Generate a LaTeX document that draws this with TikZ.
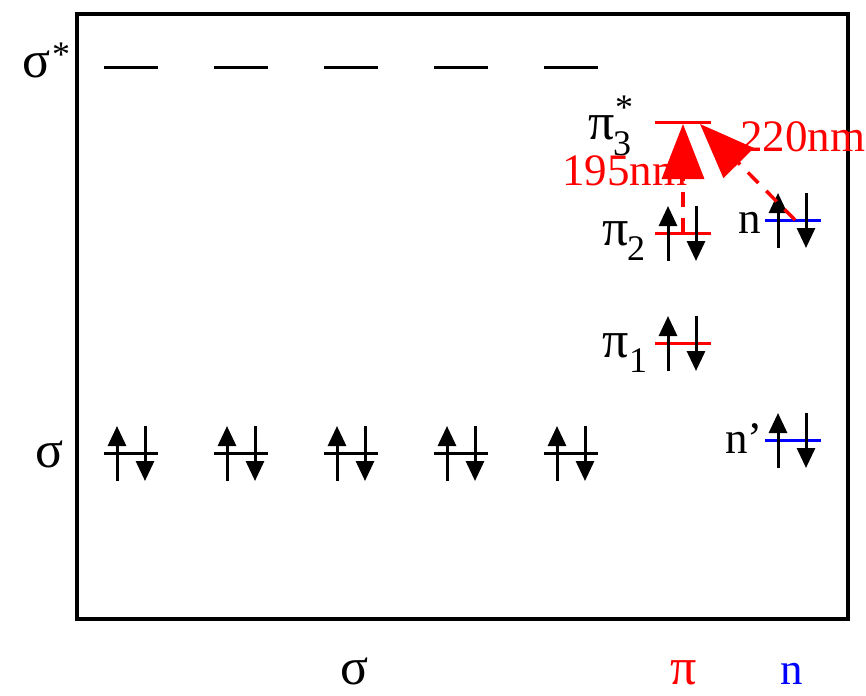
\documentclass[tikz,border=0pt]{standalone}
\usepackage{fontspec}
\setmainfont{Liberation Serif}
\usetikzlibrary{positioning,arrows.meta,calc}
\definecolor{PiRed}{RGB}{255,0,0}
\definecolor{NBlue}{RGB}{0,0,255}

% 一对自旋相反的电子：#1 = 能级左端 x，#2 = 能级 y
\newcommand{\spinpair}[2]{%
  \draw[spin] ({#1+13},{#2+28}) -- ({#1+13},{#2-27});
  \draw[spin] ({#1+41},{#2-27}) -- ({#1+41},{#2+28});}

\begin{document}
\begin{tikzpicture}[
  x=1pt, y=-1pt,
  lvl/.style={line width=3pt},
  spin/.style={line width=3pt, -{Triangle[width=18pt,length=20pt]}},
  trans/.style={PiRed, line width=3.5pt, dash pattern=on 15pt off 11pt,
    -{Triangle[width=42pt,length=55pt]}},
  grk/.style={font=\fontsize{52}{52}\selectfont, inner sep=0pt, anchor=base west},
  idx/.style={font=\fontsize{36}{36}\selectfont, inner sep=0pt, anchor=base west},
  lab/.style={font=\fontsize{45}{45}\selectfont, inner sep=0pt, anchor=base west},
]
  \useasboundingbox (0,0) rectangle (866,695);

  % ========== 外框 ==========
  \draw[line width=4pt] (77,14) rectangle (848,619);

  % ========== σ 与 σ* 能级（五组）==========
  \foreach \i in {0,...,4} {
    \draw[lvl] ({104+110*\i},68) -- ({158+110*\i},68);
    \draw[lvl] ({104+110*\i},453) -- ({158+110*\i},453);
    \spinpair{104+110*\i}{453}
  }

  % ========== π 能级 ==========
  \draw[lvl, PiRed] (655,123) -- (711,123);
  \draw[lvl, PiRed] (655,233) -- (711,233);
  \draw[lvl, PiRed] (655,343) -- (711,343);
  \spinpair{655}{233}
  \spinpair{655}{343}

  % ========== n 能级 ==========
  \draw[lvl, NBlue] (765,220) -- (821,220);
  \draw[lvl, NBlue] (765,440) -- (821,440);
  \spinpair{765}{220}
  \spinpair{765}{440}

  % ========== 跃迁 ==========
  \coordinate (pi2) at (683,233);
  \coordinate (pi3) at (683,124);
  \coordinate (pi3r) at (700,124);
  \coordinate (nlev) at (795,220);
  \draw[trans] (pi2) -- (pi3);
  \draw[trans] (nlev) -- (pi3r);
  \node[lab, PiRed] (l195) at (562,185) {195nm};
  \node[lab, PiRed] (l220) at (740,152) {220nm};

  % ========== 能级标注 ==========
  \node[grk] (lsigs) at (22,78) {σ};
  \node[idx] (lsigsx) at (52,67) {*};
  \node[grk] (lsig) at (35,467) {σ};
  \node[grk] (lpi3) at (588,140) {π};
  \node[idx] (lpi3b) at (613,156) {3};
  \node[idx] (lpi3x) at (615,120) {*};
  \node[grk] (lpi2) at (602,245) {π};
  \node[idx] (lpi2b) at (627,260) {2};
  \node[grk] (lpi1) at (602,357) {π};
  \node[idx] (lpi1b) at (629,372) {1};
  \node[lab] (ln) at (738,233) {n};
  \node[lab] (lnp) at (725,453) {n’};

  % ========== 底部分类 ==========
  \node[grk] (bsig) at (340,684) {σ};
  \node[grk, PiRed] (bpi) at (670,684) {π};
  \node[lab, NBlue] (bn) at (780,684) {n};
\end{tikzpicture}
\end{document}
